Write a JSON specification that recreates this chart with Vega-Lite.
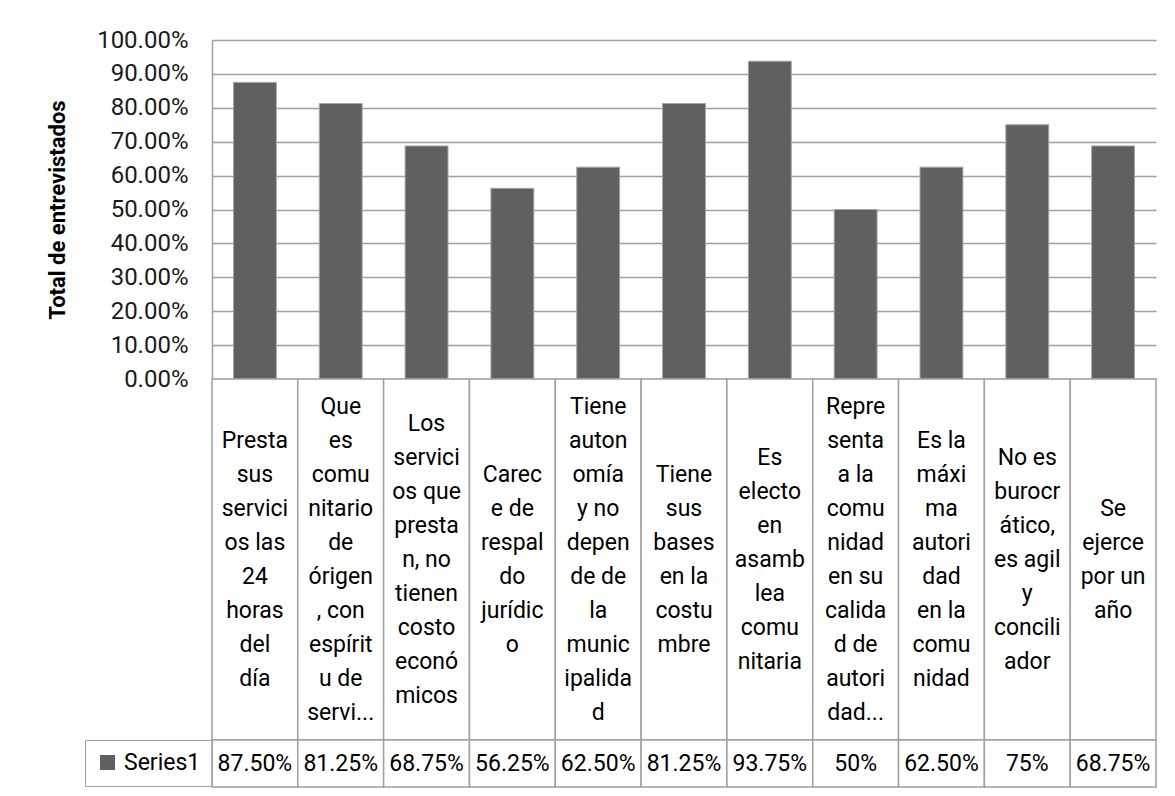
{
  "$schema": "https://vega.github.io/schema/vega-lite/v6.json",
  "background": "white",
  "padding": {"left": 46, "top": 28, "right": 10, "bottom": 5},
  "config": {"font": "Roboto", "view": {"stroke": null}},
  "spacing": 0,
  "bounds": "flush",
  "resolve": {"scale": {"color": "independent"}, "legend": {"color": "independent"}},
  "data": {"values": [
    {"categoria": "Presta\nsus\nservici\nos las\n24\nhoras\ndel\ndía", "valor": 0.875, "texto": "87.50%", "serie": "Series1"},
    {"categoria": "Que\nes\ncomu\nnitario\nde\nórigen\n, con\nespírit\nu de\nservi...", "valor": 0.8125, "texto": "81.25%", "serie": "Series1"},
    {"categoria": "Los\nservici\nos que\npresta\nn, no\ntienen\ncosto\neconó\nmicos", "valor": 0.6875, "texto": "68.75%", "serie": "Series1"},
    {"categoria": "Carec\ne de\nrespal\ndo\njurídic\no", "valor": 0.5625, "texto": "56.25%", "serie": "Series1"},
    {"categoria": "Tiene\nauton\nomía\ny no\ndepen\nde de\nla\nmunic\nipalida\nd", "valor": 0.625, "texto": "62.50%", "serie": "Series1"},
    {"categoria": "Tiene\nsus\nbases\nen la\ncostu\nmbre", "valor": 0.8125, "texto": "81.25%", "serie": "Series1"},
    {"categoria": "Es\nelecto\nen\nasamb\nlea\ncomu\nnitaria", "valor": 0.9375, "texto": "93.75%", "serie": "Series1"},
    {"categoria": "Repre\nsenta\na la\ncomu\nnidad\nen su\ncalida\nd de\nautori\ndad...", "valor": 0.5, "texto": "50%", "serie": "Series1"},
    {"categoria": "Es la\nmáxi\nma\nautori\ndad\nen la\ncomu\nnidad", "valor": 0.625, "texto": "62.50%", "serie": "Series1"},
    {"categoria": "No es\nburocr\nático,\nes agil\ny\nconcili\nador", "valor": 0.75, "texto": "75%", "serie": "Series1"},
    {"categoria": "Se\nejerce\npor un\naño", "valor": 0.6875, "texto": "68.75%", "serie": "Series1"}
  ]},
  "vconcat": [
    {
      "width": 944,
      "height": 339,
      "mark": {"type": "bar", "color": "#606060", "stroke": "#a6a6a6", "strokeWidth": 1},
      "encoding": {
        "x": {"field": "categoria", "type": "nominal", "sort": null, "scale": {"paddingInner": 0.5, "paddingOuter": 0.25}, "axis": null},
        "y": {
          "field": "valor", "type": "quantitative",
          "scale": {"domain": [0, 1]},
          "axis": {
            "title": "Total de entrevistados",
            "values": [0, 0.1, 0.2, 0.3, 0.4, 0.5, 0.6, 0.7, 0.8, 0.9, 1],
            "format": ".2%",
            "labelFontSize": 24, "labelColor": "#1a1a1a", "labelPadding": 24,
            "ticks": false,
            "domainColor": "#a0a0a0", "domainWidth": 1.5,
            "gridColor": "#a0a0a0", "gridWidth": 1.5,
            "titleFontSize": 22, "titleFontWeight": "bold", "titleColor": "#000", "titlePadding": 27
          }
        }
      }
    },
    {
      "width": 944,
      "height": 361,
      "encoding": {
        "x": {"field": "categoria", "type": "nominal", "sort": null, "scale": {"paddingInner": 0, "paddingOuter": 0}, "axis": null}
      },
      "layer": [
        {"mark": {"type": "bar", "fill": "white", "stroke": "#a0a0a0", "strokeWidth": 1.5}},
        {"mark": {"type": "text", "fontSize": 23, "lineBreak": "\n", "lineHeight": 34, "baseline": "middle", "align": "center", "color": "#000",
                  "dy": {"expr": "-(length(split(datum.categoria, '\\n')) - 1) * 17"}},
         "encoding": {"text": {"field": "categoria"}}}
      ]
    },
    {
      "width": 944,
      "height": 47,
      "encoding": {
        "x": {"field": "categoria", "type": "nominal", "sort": null, "scale": {"paddingInner": 0, "paddingOuter": 0}, "axis": null}
      },
      "layer": [
        {"mark": {"type": "bar", "fill": "white", "stroke": "#a0a0a0", "strokeWidth": 1.5}},
        {"mark": {"type": "text", "fontSize": 23, "baseline": "middle", "align": "center", "color": "#000"},
         "encoding": {"text": {"field": "texto"}}},
        {"mark": {"type": "text", "text": ""},
         "encoding": {
           "color": {"field": "serie", "type": "nominal", "scale": {"range": ["#606060"]},
             "legend": {"title": null, "orient": "left", "offset": 0, "symbolType": "square", "symbolSize": 225, "symbolStrokeWidth": 0, "labelFontSize": 23, "labelColor": "#000", "strokeColor": "#a0a0a0", "padding": 11, "labelOffset": 5}}
         }}
      ]
    }
  ]
}
